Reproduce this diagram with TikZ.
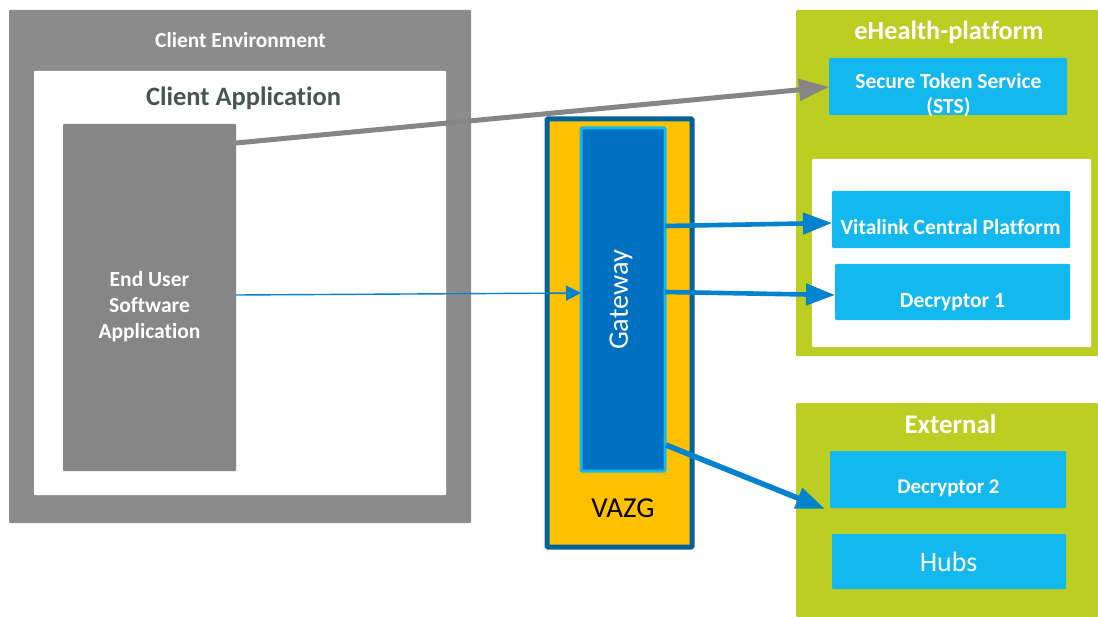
\documentclass[tikz,border=0pt]{standalone}
\usepackage{fontspec}
\setmainfont[Ligatures=NoCommon]{Carlito}
\usetikzlibrary{arrows.meta}
\definecolor{envgray}{HTML}{8C8C8C}
\definecolor{appgray}{HTML}{868686}
\definecolor{darktitle}{HTML}{44584F}
\definecolor{lime}{HTML}{BBCE21}
\definecolor{sky}{HTML}{13B9EE}
\definecolor{amber}{HTML}{FFC000}
\definecolor{navy}{HTML}{00629B}
\definecolor{gwblue}{HTML}{0070C0}
\definecolor{arrowblue}{HTML}{0382CE}
\definecolor{arrowgray}{HTML}{868686}
\tikzset{
  x=1bp,y=-1bp,
  area/.style={draw=none,inner sep=0pt,outer sep=0pt,rounded corners=1bp},
  service/.style={area,fill=sky},
  caption/.style={text=white,font=\bfseries,inner sep=0pt,align=center},
  bigarrow/.style={draw=arrowblue,line width=4.6bp,-{Triangle[length=29bp,width=21bp]}},
  greyarrow/.style={draw=arrowgray,line width=5bp,-{Triangle[length=30bp,width=21bp]}},
  thinarrow/.style={draw=arrowblue,line width=1.4bp,-{Triangle[length=15bp,width=15bp]}}
}
\newcommand{\boxat}[6]{\node[#1,minimum width=#5bp-#3bp,minimum height=#6bp-#4bp,anchor=north west] (#2) at (#3,#4) {};}
\begin{document}
\begin{tikzpicture}
\useasboundingbox (0,0) rectangle (1098,617);
% client side
\boxat{area,fill=envgray}{env}{9}{10}{471}{523}
\boxat{area,fill=white}{client}{34}{71}{446}{495}
\boxat{area,fill=appgray}{app}{63}{124}{236}{471}
\node[caption,font=\bfseries\fontsize{21.5}{23}\selectfont] (envt) at (240.5,40) {Client Environment};
\node[caption,text=darktitle,font=\bfseries\fontsize{26.6}{28}\selectfont] (clientt) at (243.5,98) {Client Application};
\node[caption,font=\bfseries\fontsize{21.6}{26}\selectfont] (appt) at (149.5,307) {End User\\Software\\Application};
% gateway
\boxat{area,fill=amber,draw=navy,line width=5bp}{vazg}{547}{119}{692}{547}
\boxat{area,fill=gwblue,draw=sky,line width=3bp}{gw}{581}{128}{665}{471}
\node[text=white,rotate=90,inner sep=0pt,font=\fontsize{28.4}{30}\selectfont] (gwt) at (621,300) {Gateway};
\node[inner sep=0pt,text=black,font=\fontsize{29}{31}\selectfont] (vazgt) at (623,508) {VAZG};
% eHealth platform
\boxat{area,fill=lime}{eh}{796}{10}{1098}{356}
\boxat{area,fill=white}{ehw}{812}{159}{1091}{347}
\boxat{service}{sts}{829}{58}{1067}{115}
\boxat{service}{vit}{832}{191}{1070}{248}
\boxat{service}{dec1}{835}{264}{1070}{320}
\node[caption,font=\bfseries\fontsize{26.4}{28}\selectfont] (eht) at (949,32) {eHealth-platform};
\node[caption,font=\bfseries\fontsize{21.6}{25}\selectfont] (stst) at (948.5,95.5) {Secure Token Service\\(STS)};
\node[caption,font=\bfseries\fontsize{21.6}{23}\selectfont] (vitt) at (950.5,227) {Vitalink Central Platform};
\node[caption,font=\bfseries\fontsize{21.6}{23}\selectfont] (dec1t) at (952.5,302) {Decryptor 1};
% external
\boxat{area,fill=lime}{ext}{796}{403}{1098}{617}
\boxat{service}{dec2}{830}{451}{1066}{508}
\boxat{service}{hubs}{832}{534}{1066}{589}
\node[caption,font=\bfseries\fontsize{27}{29}\selectfont] (extt) at (950.5,424) {External};
\node[caption,font=\bfseries\fontsize{21}{23}\selectfont] (dec2t) at (948.5,488) {Decryptor 2};
\node[inner sep=0pt,text=white,font=\fontsize{28}{30}\selectfont] (hubst) at (948.5,562) {Hubs};
% connectors
\draw[greyarrow] ([yshift=328bp]app.south east) -- ([yshift=-0.5bp]sts.west);
\draw[thinarrow] ([yshift=2.5bp]app.east) -- ([yshift=6.5bp]gw.west);
\draw[bigarrow] ([yshift=73.5bp]gw.east) -- ([yshift=-3.5bp]vit.west);
\draw[bigarrow] ([yshift=7.5bp]gw.east) -- ([yshift=-3bp]dec1.west);
\draw[bigarrow,line width=5.5bp] ([xshift=1bp,yshift=26bp]gw.south east) -- ([xshift=-5bp,yshift=-1bp]dec2.south west);
\end{tikzpicture}
\end{document}
